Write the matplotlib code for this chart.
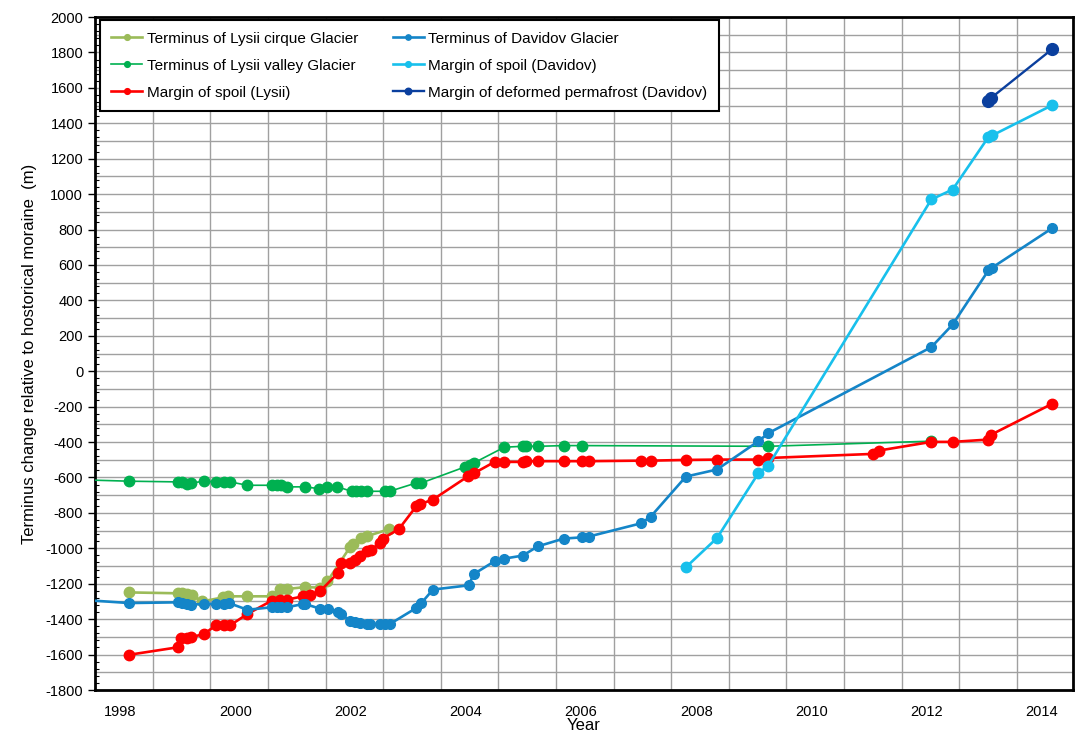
import numpy as np
import matplotlib
matplotlib.use("Agg")
import matplotlib.pyplot as plt
from matplotlib.ticker import MultipleLocator, FixedLocator

plt.rcParams['font.family'] = ['Liberation Sans', 'DejaVu Sans']
plt.rcParams['axes.unicode_minus'] = False

# Terminus of Lysii cirque Glacier
cirque_year = [1998.16, 1999.01, 1999.07, 1999.16, 1999.25, 1999.42, 1999.79, 1999.87,
               2000.20, 2000.63, 2000.77, 2000.89, 2001.21, 2001.47, 2001.60, 2001.99,
               2002.04, 2002.19, 2002.28, 2002.66]
cirque_val = [-1249, -1254, -1254, -1260, -1265, -1300, -1277, -1271,
              -1271, -1271, -1230, -1230, -1219, -1222, -1186, -994,
              -977, -944, -932, -893]

# Terminus of Lysii valley Glacier
valley_year = [1997.2, 1998.16, 1999.01, 1999.07, 1999.16, 1999.24, 1999.46, 1999.66, 1999.81,
               1999.91, 2000.21, 2000.63, 2000.72, 2000.79, 2000.90, 2001.21, 2001.45,
               2001.60, 2001.77, 2002.02, 2002.10, 2002.19, 2002.28, 2002.59, 2002.68,
               2003.14, 2003.23, 2003.99, 2004.07, 2004.14, 2004.67, 2004.99, 2005.05,
               2005.25, 2005.70, 2006.02, 2009.25, 2012.08]
valley_val = [-612, -621, -625, -625, -635, -631, -621, -625, -625,
              -625, -644, -644, -644, -644, -653, -653, -663,
              -653, -653, -678, -678, -678, -678, -678, -678,
              -631, -631, -540, -527, -518, -429, -424, -424,
              -424, -420, -420, -424, -395]

# Margin of spoil (Lysii)
spoil_l_year = [1998.16, 1999.00, 1999.05, 1999.16, 1999.24, 1999.46, 1999.66, 1999.81,
                1999.91, 2000.21, 2000.63, 2000.77, 2000.89, 2001.18, 2001.29, 2001.47,
                2001.78, 2001.84, 2001.99, 2002.07, 2002.16, 2002.28, 2002.36, 2002.51,
                2002.56, 2002.84, 2003.14, 2003.21, 2003.43, 2004.04, 2004.15, 2004.50,
                2004.67, 2004.99, 2005.05, 2005.25, 2005.70, 2006.02, 2006.13, 2007.04,
                2007.21, 2007.82, 2008.36, 2009.08, 2009.25, 2011.06, 2011.17, 2012.08,
                2012.45, 2013.07, 2013.12, 2014.17]
spoil_l_val = [-1601, -1559, -1507, -1507, -1501, -1484, -1435, -1435,
               -1435, -1371, -1296, -1290, -1290, -1271, -1262, -1243,
               -1140, -1083, -1083, -1064, -1045, -1017, -1007, -970,
               -945, -891, -763, -750, -725, -593, -575, -512,
               -512, -512, -508, -508, -508, -508, -508, -505,
               -505, -501, -499, -499, -490, -467, -448, -399,
               -399, -386, -358, -185]

# Terminus of Davidov Glacier
davidov_year = [1997.2, 1998.16, 1999.00, 1999.07, 1999.16, 1999.23, 1999.46, 1999.66, 1999.81,
                1999.89, 2000.21, 2000.63, 2000.72, 2000.79, 2000.90, 2001.18, 2001.21,
                2001.47, 2001.61, 2001.78, 2001.84, 2001.99, 2002.07, 2002.16, 2002.28,
                2002.33, 2002.51, 2002.59, 2002.68, 2003.14, 2003.23, 2003.43, 2004.05,
                2004.14, 2004.50, 2004.67, 2004.99, 2005.25, 2005.70, 2006.02, 2006.13,
                2007.04, 2007.21, 2007.82, 2008.36, 2009.08, 2009.25, 2012.08, 2012.45,
                2013.07, 2013.13, 2014.17]
davidov_val = [-1288, -1309, -1305, -1309, -1314, -1318, -1314, -1314, -1314,
               -1309, -1347, -1333, -1333, -1333, -1333, -1314, -1314,
               -1341, -1341, -1360, -1371, -1409, -1417, -1422, -1428,
               -1428, -1428, -1428, -1428, -1337, -1309, -1233, -1209,
               -1145, -1073, -1058, -1041, -989, -945, -938, -934,
               -859, -821, -595, -555, -395, -350, 136, 264,
               569, 584, 806]

# Margin of spoil (Davidov)
spoil_d_year = [2007.82, 2008.36, 2009.08, 2009.25, 2012.08, 2012.45, 2013.07, 2013.14, 2014.17]
spoil_d_val = [-1107, -942, -575, -533, 970, 1026, 1322, 1332, 1501]

# Margin of deformed permafrost (Davidov)
perma_year = [2013.07, 2013.12, 2014.17]
perma_val = [1525, 1544, 1817]

year_labels = [1998, 2000, 2002, 2004, 2006, 2008, 2010, 2012, 2014]

fig = plt.figure(figsize=(10.81, 7.36), dpi=100)
ax = fig.add_axes([0.0879, 0.0625, 0.9047, 0.9144])

ax.plot(cirque_year, cirque_val, color='#9BBB59', lw=1.9, marker='o', ms=7.5,
        label='Terminus of Lysii cirque Glacier', zorder=3)
ax.plot(valley_year, valley_val, color='#00B050', lw=1.2, marker='o', ms=7.5,
        label='Terminus of Lysii valley Glacier', zorder=3)
ax.plot(spoil_l_year, spoil_l_val, color='#FF0000', lw=1.9, marker='o', ms=7.5,
        label='Margin of spoil (Lysii)', zorder=3)
ax.plot(davidov_year, davidov_val, color='#1485C8', lw=1.9, marker='o', ms=7,
        label='Terminus of Davidov Glacier', zorder=3)
ax.plot(spoil_d_year, spoil_d_val, color='#18C0EC', lw=1.9, marker='o', ms=7.5,
        label='Margin of spoil (Davidov)', zorder=3)
ax.plot(perma_year, perma_val, color='#0A3F9E', lw=1.7, marker='o', ms=8.5,
        label='Margin of deformed permafrost (Davidov)', zorder=3)

xmin, xmax = 1997.566, 2014.538
ax.set_xlim(xmin, xmax)
ax.set_ylim(-1800, 2000)

ax.xaxis.set_major_locator(FixedLocator(year_labels))
ax.xaxis.set_minor_locator(FixedLocator(np.arange(xmin + 1, xmax, 1.0)))
ax.yaxis.set_major_locator(MultipleLocator(200))
ax.yaxis.set_minor_locator(MultipleLocator(40))

ax.grid(False)
ax.xaxis.grid(True, which='minor', color='#A0A0A0', lw=1)
for yv in np.arange(-1700, 2000, 100):
    ax.axhline(yv, color='#A0A0A0', lw=1, zorder=0.5)

ax.tick_params(axis='x', which='major', length=0, labelsize=10.5, pad=11)
ax.tick_params(axis='x', which='minor', length=0)
ax.tick_params(axis='y', which='major', direction='out', length=5, width=1, labelsize=10.5)
ax.tick_params(axis='y', which='minor', direction='in', length=3, width=0.8)

for side in ['left', 'bottom', 'top', 'right']:
    ax.spines[side].set_linewidth(2)
    ax.spines[side].set_color('black')

ax.set_xlabel('Year', fontsize=12, labelpad=-1)
ax.set_ylabel('Terminus change relative to hostorical moraine  (m)', fontsize=12, labelpad=6)

leg = ax.legend(loc='upper left', ncol=2, fontsize=11, frameon=True, fancybox=False,
                edgecolor='black', handlelength=2.0, handletextpad=0.3, markerscale=0.55,
                labelspacing=0.85, columnspacing=2.3, borderpad=0.75, borderaxespad=0,
                bbox_to_anchor=(0.005, 0.995))
leg.get_frame().set_linewidth(1.5)
leg.get_frame().set_alpha(1)

fig.savefig('out.png', dpi=100)
